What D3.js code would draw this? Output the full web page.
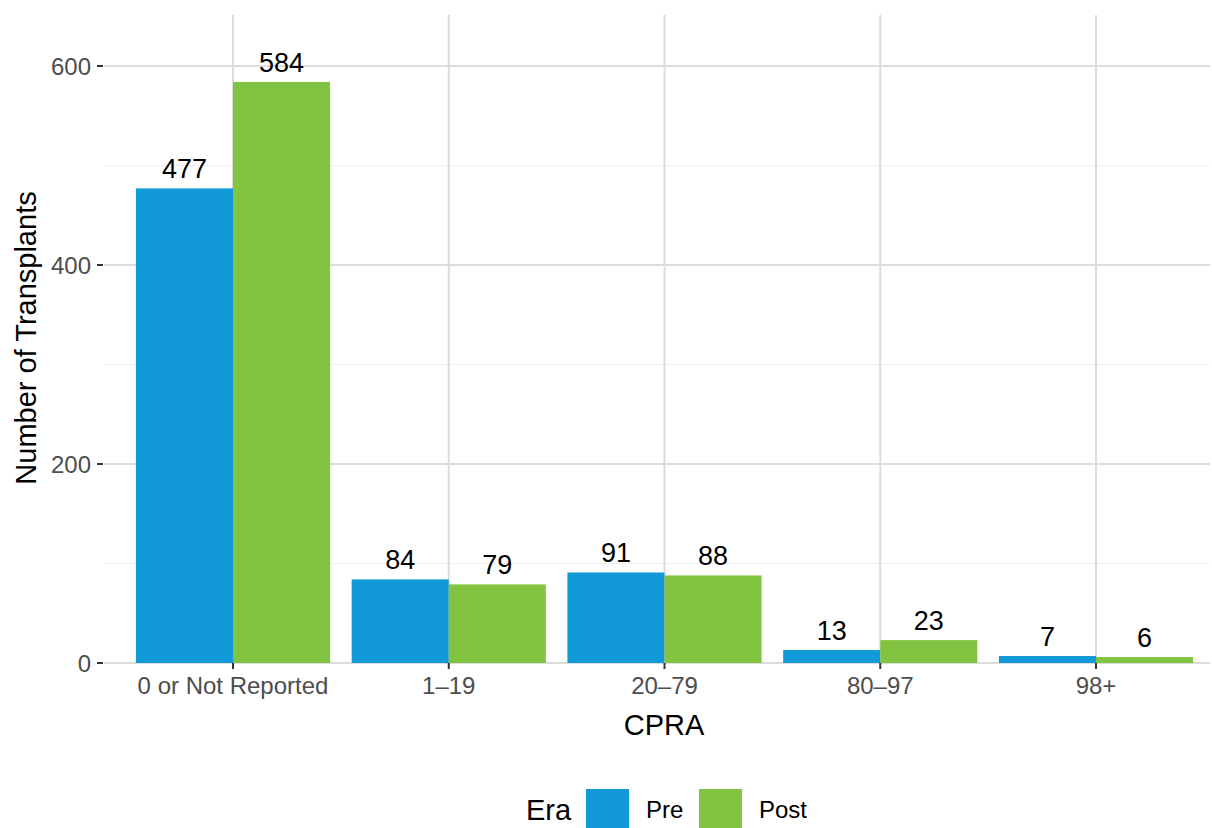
<!DOCTYPE html>
<html>
<head>
<meta charset="utf-8">
<script src="https://cdn.jsdelivr.net/npm/d3@7"></script>
<style>
  body { margin: 0; background: #fff; }
  svg { font-family: "Liberation Sans", Arial, sans-serif; }
</style>
</head>
<body>
<svg id="chart"></svg>
<script>
const categories = ["0 or Not Reported", "1\u201319", "20\u201379", "80\u201397", "98+"];
const eras = ["Pre", "Post"];
const preValues = [477, 84, 91, 13, 7];
const postValues = [584, 79, 88, 23, 6];
const yTicks = [0, 200, 400, 600];
const yMinor = [100, 300, 500];
const eraColors = ["#1198D6", "#82C341"];

const width = 1212, height = 828;
const svg = d3.select("#chart").attr("width", width).attr("height", height);

const step = 215.75;
const x = d3.scaleBand()
    .domain(categories)
    .range([233 - step / 2, 1096 + step / 2])
    .paddingInner(0).paddingOuter(0);
const panelLeft = 104, panelRight = 1210, panelTop = 15;
const y = d3.scaleLinear().domain([0, 600]).range([663, 66]);
const barW = step * 0.9;
const half = d3.scaleBand().domain(eras).range([0, barW]);

const g = svg.append("g");

// grid
g.selectAll(".minor").data(yMinor).enter().append("line")
    .attr("x1", panelLeft).attr("x2", panelRight)
    .attr("y1", d => y(d)).attr("y2", d => y(d))
    .attr("stroke", "#f0f0f0").attr("stroke-width", 1);
g.selectAll(".major").data(yTicks).enter().append("line")
    .attr("x1", panelLeft).attr("x2", panelRight)
    .attr("y1", d => y(d)).attr("y2", d => y(d))
    .attr("stroke", "#dcdcdc").attr("stroke-width", 2);
g.selectAll(".vgrid").data(categories).enter().append("line")
    .attr("x1", d => x(d) + x.bandwidth() / 2).attr("x2", d => x(d) + x.bandwidth() / 2)
    .attr("y1", panelTop).attr("y2", y(0))
    .attr("stroke", "#dcdcdc").attr("stroke-width", 2);

// bars
const rows = [];
categories.forEach((c, i) => {
    rows.push({cat: c, era: "Pre", v: preValues[i]});
    rows.push({cat: c, era: "Post", v: postValues[i]});
});
const bx = d => x(d.cat) + x.bandwidth() / 2 - barW / 2 + half(d.era);
g.selectAll(".bar").data(rows).enter().append("rect")
    .attr("x", bx)
    .attr("width", half.bandwidth())
    .attr("y", d => y(d.v))
    .attr("height", d => y(0) - y(d.v))
    .attr("fill", d => eraColors[eras.indexOf(d.era)]);

g.selectAll(".lbl").data(rows).enter().append("text")
    .attr("x", d => bx(d) + half.bandwidth() / 2)
    .attr("y", d => y(d.v) - 10)
    .attr("text-anchor", "middle")
    .attr("font-size", 27)
    .attr("fill", "#000")
    .text(d => d.v);

// y axis ticks and labels
g.selectAll(".yt").data(yTicks).enter().append("line")
    .attr("x1", 97).attr("x2", 103)
    .attr("y1", d => y(d)).attr("y2", d => y(d))
    .attr("stroke", "#333").attr("stroke-width", 2);
g.selectAll(".yl").data(yTicks).enter().append("text")
    .attr("x", 91).attr("y", d => y(d) + 8.5)
    .attr("text-anchor", "end")
    .attr("font-size", 24).attr("fill", "#4d4d4d")
    .text(d => d);

// x axis ticks and labels
g.selectAll(".xt").data(categories).enter().append("line")
    .attr("x1", d => x(d) + x.bandwidth() / 2).attr("x2", d => x(d) + x.bandwidth() / 2)
    .attr("y1", 663).attr("y2", 669)
    .attr("stroke", "#333").attr("stroke-width", 2);
g.selectAll(".xl").data(categories).enter().append("text")
    .attr("x", d => x(d) + x.bandwidth() / 2).attr("y", 694)
    .attr("text-anchor", "middle")
    .attr("font-size", 24).attr("fill", "#4d4d4d")
    .text(d => d);

// axis titles
svg.append("text")
    .attr("x", 664).attr("y", 735)
    .attr("text-anchor", "middle").attr("font-size", 29)
    .text("CPRA");
svg.append("text")
    .attr("transform", "translate(36,338) rotate(-90)")
    .attr("text-anchor", "middle").attr("font-size", 29)
    .text("Number of Transplants");

// legend
const legend = svg.append("g");
legend.append("text").attr("x", 526).attr("y", 820)
    .attr("font-size", 29).text("Era");
const keyX = [586, 699];
eras.forEach((e, i) => {
    legend.append("rect")
        .attr("x", keyX[i]).attr("y", 789)
        .attr("width", 43).attr("height", 39)
        .attr("fill", eraColors[i]);
    legend.append("text")
        .attr("x", keyX[i] + 60).attr("y", 818)
        .attr("font-size", 24).text(e);
});
</script>
</body>
</html>
